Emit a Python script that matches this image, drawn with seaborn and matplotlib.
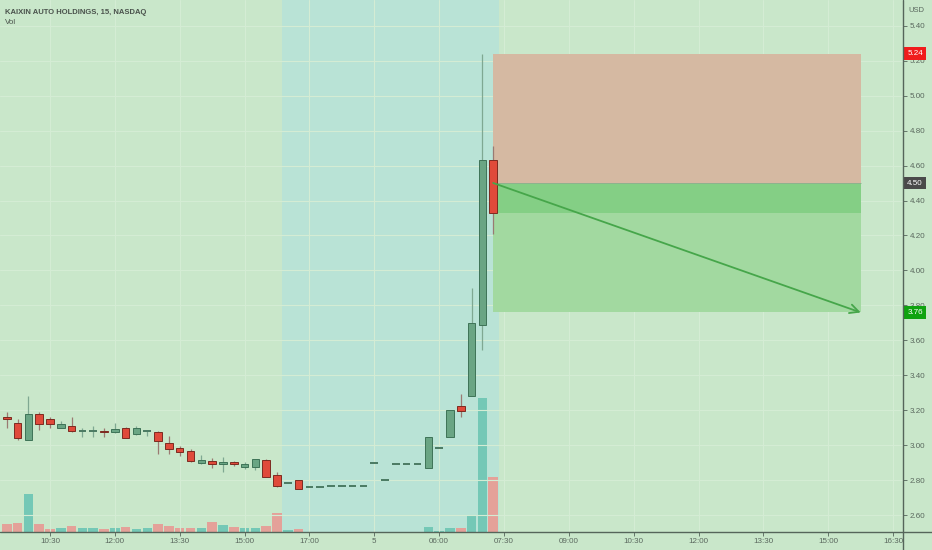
import numpy as np
import pandas as pd
import matplotlib
matplotlib.use("Agg")
import matplotlib.pyplot as plt
import matplotlib.transforms as mtransforms
from matplotlib.lines import Line2D
import seaborn as sns

# Datos (velas de 15 min, indice de barra)
bar_index = list(range(46))
opens = [3.16, 3.13, 3.03, 3.18, 3.15, 3.10, 3.11, 3.085, 3.085, 3.082,
         3.075, 3.10, 3.064, 3.083, 3.075, 3.013, 2.984, 2.97, 2.902, 2.913,
         2.893, 2.906, 2.875, 2.879, 2.917, 2.831, 2.787, 2.803, 2.763, 2.763,
         2.770, 2.770, 2.770, 2.770, 2.902, 2.803, 2.893, 2.893, 2.893, 2.87,
         2.984, 3.05, 3.226, 3.28, 3.69, 4.63]
highs = [3.19, 3.15, 3.28, 3.19, 3.16, 3.14, 3.16, 3.10, 3.11, 3.10,
         3.13, 3.105, 3.11, 3.083, 3.08, 3.054, 2.997, 2.978, 2.946, 2.93,
         2.932, 2.913, 2.904, 2.921, 2.92, 2.85, 2.787, 2.803, 2.763, 2.763,
         2.770, 2.770, 2.770, 2.770, 2.902, 2.803, 2.893, 2.893, 2.893, 3.05,
         2.984, 3.20, 3.294, 3.90, 5.24, 4.71]
lows = [3.10, 3.03, 3.03, 3.09, 3.10, 3.10, 3.075, 3.05, 3.05, 3.05,
        3.07, 3.04, 3.06, 3.054, 2.95, 2.95, 2.942, 2.907, 2.894, 2.87,
        2.85, 2.885, 2.864, 2.86, 2.82, 2.761, 2.787, 2.751, 2.763, 2.763,
        2.770, 2.770, 2.770, 2.770, 2.902, 2.803, 2.893, 2.893, 2.893, 2.87,
        2.984, 3.05, 3.161, 3.28, 3.546, 4.21]
closes = [3.15, 3.04, 3.18, 3.12, 3.12, 3.12, 3.08, 3.085, 3.085, 3.077,
          3.094, 3.04, 3.10, 3.083, 3.027, 2.978, 2.965, 2.911, 2.917, 2.896,
          2.904, 2.893, 2.894, 2.921, 2.822, 2.769, 2.787, 2.751, 2.763, 2.763,
          2.770, 2.770, 2.770, 2.770, 2.902, 2.803, 2.893, 2.893, 2.893, 3.05,
          2.984, 3.20, 3.199, 3.70, 4.63, 4.33]
volumes = [7.3, 9, 38, 7.3, 2.3, 4, 5.7, 4, 4, 2.3,
           3.3, 4.3, 2.3, 3.3, 8, 5.7, 4, 3.3, 4, 9.3,
           6.7, 4.3, 4, 3.3, 5.3, 18.3, 1.7, 2.7, 0, 0,
           0, 0, 0, 0, 0, 0, 0, 0, 0, 4.3,
           0.5, 3.7, 3.7, 16.3, 134, 55]

tick_pos = [4, 10, 16, 22, 28, 34, 40, 46, 52, 58, 64, 70, 76, 82]
tick_labels = ["10:30", "12:00", "13:30", "15:00", "17:00", "5", "06:00",
               "07:30", "09:00", "10:30", "12:00", "13:30", "15:00", "16:30"]
price_ticks = [2.60, 2.80, 3.00, 3.20, 3.40, 3.60, 3.80, 4.00, 4.20,
               4.40, 4.60, 4.80, 5.00, 5.20, 5.40]

# Posicion corta
entry_price = 4.50
stop_price = 5.24
target_price = 3.76
box_start, box_end = 45, 79
# Sesion extendida (fondo azul)
session_start, session_end = 25.5, 45.5

# Colores
bg = "#c9e7ca"
bg_session = "#b9e3d6"
grid_c = "#d4ecd4"
axis_c = "#55655a"
text_c = "#5a685e"

df = pd.DataFrame({"idx": bar_index, "open": opens, "high": highs,
                   "low": lows, "close": closes, "vol": volumes})
df["dir"] = np.where(df["close"] >= df["open"], "up", "down")

sns.set_theme(style="white")
plt.rcParams["font.family"] = ["Liberation Sans", "DejaVu Sans"]

W, H = 932, 550
fig = plt.figure(figsize=(W / 100, H / 100), dpi=100, facecolor=bg)
rect = [0, 18.3 / H, 903.3 / W, 531.7 / H]
ax_vol = fig.add_axes(rect)
ax = fig.add_axes(rect, sharex=ax_vol)
ax.patch.set_alpha(0)
ax_vol.set_facecolor(bg)

# Fondo de sesion y volumen
ax_vol.axvspan(session_start, session_end, color=bg_session, lw=0, zorder=0)
sns.barplot(data=df, x="idx", y="vol", hue="dir", native_scale=True,
            palette={"up": "#74c8b6", "down": "#e4a199"}, width=0.88,
            dodge=False, legend=False, saturation=1, linewidth=0,
            errorbar=None, ax=ax_vol)
ax_vol.set_ylim(0, 531.7)
ax_vol.set_xlabel("")
ax_vol.set_ylabel("")
ax_vol.tick_params(left=False, labelleft=False, bottom=False, labelbottom=False)
for s in ax_vol.spines.values():
    s.set_visible(False)

# Rejilla
ax.set_axisbelow(True)
ax.grid(True, color=grid_c, lw=0.8)

# Caja de la posicion corta
ax.fill_between([box_start, box_end], entry_price, stop_price, color="#d5b9a2", lw=0, zorder=1.5)
ax.fill_between([box_start, box_end], target_price, entry_price, color="#a2d9a0", lw=0, zorder=1.5)
ax.fill_between([box_start, box_end], closes[-1], entry_price, color="#84cf85", lw=0, zorder=1.6)
ax.hlines(entry_price, box_start, box_end, color="#8fae8f", lw=0.6, zorder=1.7)

# Velas
up = df["dir"] == "up"
wick_col = np.where(up, "#7fa892", "#9a7a72")
ax.vlines(df["idx"], df["low"], df["high"], colors=wick_col, lw=0.9, zorder=2)
body_low = df[["open", "close"]].min(axis=1)
body_h = (df["close"] - df["open"]).abs()
flat = body_h < 0.004
body = df[~flat]
ax.bar(body["idx"], body_h[~flat], bottom=body_low[~flat], width=0.7,
       color=np.where(up[~flat], "#6aa584", "#e04a3a"),
       edgecolor=np.where(up[~flat], "#3e7357", "#7d2a20"), lw=0.7, zorder=3)
fl = df[flat]
ax.hlines(fl["close"], fl["idx"] - 0.35, fl["idx"] + 0.35,
          colors=np.where(up[flat], "#4a7a62", "#7d2a20"), lw=1.4, zorder=3)

# Flecha objetivo
ax.annotate("", xy=(box_end, target_price), xytext=(box_start, entry_price),
            arrowprops=dict(arrowstyle="->", color="#46a64a", lw=1.3,
                            mutation_scale=16, shrinkA=0, shrinkB=0), zorder=4)

ax.set_xlim(-0.625, 82.94)
ax.set_ylim(2.507, 5.546)
ax.yaxis.tick_right()
ax.set_yticks(price_ticks, [f"{p:.2f}" for p in price_ticks])
ax.set_xticks(tick_pos, tick_labels)
ax.tick_params(axis="y", right=True, left=False, length=3, width=0.6, color=axis_c,
               labelsize=5.8, labelcolor=text_c, pad=1.5)
ax.tick_params(axis="x", bottom=True, length=3, width=0.6, color=axis_c,
               labelsize=5.8, labelcolor=text_c, pad=1.5)
for s in ax.spines.values():
    s.set_visible(False)

# Lineas de los ejes hasta el borde
fig.add_artist(Line2D([0, 1], [18.3 / H] * 2, transform=fig.transFigure, color=axis_c, lw=1))
fig.add_artist(Line2D([903.3 / W] * 2, [0, 1], transform=fig.transFigure, color=axis_c, lw=1))

# Etiquetas de precio en el eje
trans = mtransforms.blended_transform_factory(ax.transAxes, ax.transData)
for precio, color in [(stop_price, "#f01c1c"), (entry_price, "#4a4a4a"), (target_price, "#0fa30f")]:
    ax.text(1.0 + 4 / 903, precio, f"{precio:.2f}", transform=trans, ha="left", va="center",
            fontsize=5.8, color="white", clip_on=False, zorder=6,
            bbox=dict(boxstyle="square,pad=0.35", fc=color, ec="none"))

fig.text(916 / W, 1 - 10 / H, "USD", fontsize=5.5, color=text_c, ha="center", va="center")
fig.text(5 / W, 1 - 12 / H, "KAIXIN AUTO HOLDINGS, 15, NASDAQ", fontsize=5.5,
         fontweight="bold", color="#4a524c", ha="left", va="center")
fig.text(5 / W, 1 - 23 / H, "Vol", fontsize=5.8, color="#4a524c", ha="left", va="center")

fig.savefig("out.png", dpi=100, facecolor=bg)
